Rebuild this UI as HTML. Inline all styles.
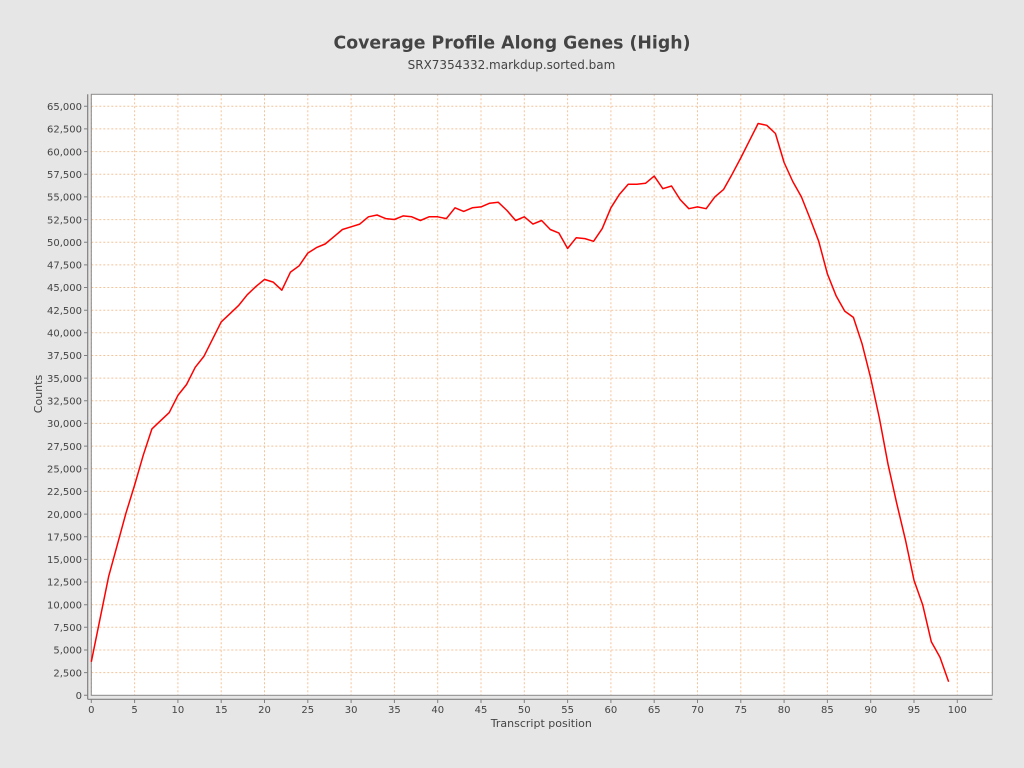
<!DOCTYPE html>
<html>
<head>
<meta charset="utf-8">
<style>
html,body{margin:0;padding:0;background:#e6e6e6;}
svg{display:block;}
text{font-family:"DejaVu Sans","Liberation Sans",sans-serif;fill:#444;}
</style>
</head>
<body>
<svg width="1024" height="768" viewBox="0 0 1024 768" xmlns="http://www.w3.org/2000/svg">
<rect x="0" y="0" width="1024" height="768" fill="#e6e6e6"/>
<text x="512" y="48.5" text-anchor="middle" font-size="18" font-weight="bold" style="fill:#444" textLength="357" lengthAdjust="spacingAndGlyphs">Coverage Profile Along Genes (High)</text>
<text x="511.5" y="69" text-anchor="middle" font-size="12" style="fill:#444">SRX7354332.markdup.sorted.bam</text>

<rect x="91.3" y="94.3" width="901" height="601" fill="#ffffff"/>

<g stroke="#f4c49c" stroke-width="1" stroke-dasharray="2,2" fill="none">
<path id="vg" d="M91.3 94.3V695.3M134.6 94.3V695.3M177.9 94.3V695.3M221.2 94.3V695.3M264.5 94.3V695.3M307.8 94.3V695.3M351.1 94.3V695.3M394.4 94.3V695.3M437.7 94.3V695.3M481.0 94.3V695.3M524.3 94.3V695.3M567.6 94.3V695.3M610.9 94.3V695.3M654.2 94.3V695.3M697.5 94.3V695.3M740.8 94.3V695.3M784.1 94.3V695.3M827.4 94.3V695.3M870.7 94.3V695.3M914.0 94.3V695.3M957.3 94.3V695.3"/>
<path d="M91.3 672.6H992.3M91.3 650.0H992.3M91.3 627.3H992.3M91.3 604.7H992.3M91.3 582.0H992.3M91.3 559.4H992.3M91.3 536.7H992.3M91.3 514.1H992.3M91.3 491.4H992.3M91.3 468.8H992.3M91.3 446.1H992.3M91.3 423.4H992.3M91.3 400.8H992.3M91.3 378.1H992.3M91.3 355.5H992.3M91.3 332.8H992.3M91.3 310.2H992.3M91.3 287.5H992.3M91.3 264.9H992.3M91.3 242.2H992.3M91.3 219.6H992.3M91.3 196.9H992.3M91.3 174.2H992.3M91.3 151.6H992.3M91.3 128.9H992.3M91.3 106.3H992.3"/>
</g>

<rect x="91.3" y="94.3" width="901" height="601" fill="none" stroke="#8a8a8a" stroke-width="1"/>

<!-- axes -->
<g stroke="#808080" stroke-width="1.2" fill="none">
<path d="M87.7 94.3V699.3"/>
<path d="M87.7 699.3H992.3"/>
</g>
<g stroke="#808080" stroke-width="1" fill="none">
<path d="M84 695.3H87.7M84 672.6H87.7M84 650.0H87.7M84 627.3H87.7M84 604.7H87.7M84 582.0H87.7M84 559.4H87.7M84 536.7H87.7M84 514.1H87.7M84 491.4H87.7M84 468.8H87.7M84 446.1H87.7M84 423.4H87.7M84 400.8H87.7M84 378.1H87.7M84 355.5H87.7M84 332.8H87.7M84 310.2H87.7M84 287.5H87.7M84 264.9H87.7M84 242.2H87.7M84 219.6H87.7M84 196.9H87.7M84 174.2H87.7M84 151.6H87.7M84 128.9H87.7M84 106.3H87.7"/>
<path d="M91.3 699.3V703M134.6 699.3V703M177.9 699.3V703M221.2 699.3V703M264.5 699.3V703M307.8 699.3V703M351.1 699.3V703M394.4 699.3V703M437.7 699.3V703M481.0 699.3V703M524.3 699.3V703M567.6 699.3V703M610.9 699.3V703M654.2 699.3V703M697.5 699.3V703M740.8 699.3V703M784.1 699.3V703M827.4 699.3V703M870.7 699.3V703M914.0 699.3V703M957.3 699.3V703"/>
</g>

<g font-size="10" text-anchor="end">
<text x="82" y="699">0</text>
<text x="82" y="676.3">2,500</text>
<text x="82" y="653.7">5,000</text>
<text x="82" y="631">7,500</text>
<text x="82" y="608.4">10,000</text>
<text x="82" y="585.7">12,500</text>
<text x="82" y="563.1">15,000</text>
<text x="82" y="540.4">17,500</text>
<text x="82" y="517.8">20,000</text>
<text x="82" y="495.1">22,500</text>
<text x="82" y="472.5">25,000</text>
<text x="82" y="449.8">27,500</text>
<text x="82" y="427.1">30,000</text>
<text x="82" y="404.5">32,500</text>
<text x="82" y="381.8">35,000</text>
<text x="82" y="359.2">37,500</text>
<text x="82" y="336.5">40,000</text>
<text x="82" y="313.9">42,500</text>
<text x="82" y="291.2">45,000</text>
<text x="82" y="268.6">47,500</text>
<text x="82" y="245.9">50,000</text>
<text x="82" y="223.3">52,500</text>
<text x="82" y="200.6">55,000</text>
<text x="82" y="177.9">57,500</text>
<text x="82" y="155.3">60,000</text>
<text x="82" y="132.6">62,500</text>
<text x="82" y="110">65,000</text>
</g>

<g font-size="10" text-anchor="middle">
<text x="91.3" y="713">0</text>
<text x="134.6" y="713">5</text>
<text x="177.9" y="713">10</text>
<text x="221.2" y="713">15</text>
<text x="264.5" y="713">20</text>
<text x="307.8" y="713">25</text>
<text x="351.1" y="713">30</text>
<text x="394.4" y="713">35</text>
<text x="437.7" y="713">40</text>
<text x="481.0" y="713">45</text>
<text x="524.3" y="713">50</text>
<text x="567.6" y="713">55</text>
<text x="610.9" y="713">60</text>
<text x="654.2" y="713">65</text>
<text x="697.5" y="713">70</text>
<text x="740.8" y="713">75</text>
<text x="784.1" y="713">80</text>
<text x="827.4" y="713">85</text>
<text x="870.7" y="713">90</text>
<text x="914.0" y="713">95</text>
<text x="957.3" y="713">100</text>
</g>

<text x="541.3" y="727" text-anchor="middle" font-size="11">Transcript position</text>
<text transform="translate(42,394) rotate(-90)" x="0" y="0" text-anchor="middle" font-size="11">Counts</text>

<polyline fill="none" stroke="#ff0000" stroke-width="1.5" stroke-linejoin="round" points="
91.3,661.8 99.96,619.2 108.62,576.6 117.28,544.9 125.94,513.2 134.6,485.1 143.26,455.2 151.92,428.9 160.58,420.7 169.24,412.6
177.9,395.4 186.56,384.5 195.22,367.3 203.88,356.4 212.54,339.2 221.2,321.9 229.86,313.8 238.52,305.6 247.18,294.8 255.84,286.6
264.5,279.4 273.16,282.1 281.82,290.2 290.48,272.1 299.14,265.8 307.8,253.1 316.46,247.6 325.12,244.0 333.78,236.8 342.44,229.5
351.1,226.8 359.76,224.1 368.42,216.8 377.08,215.0 385.74,218.6 394.4,219.5 403.06,215.9 411.72,216.8 420.38,220.5 429.04,216.8
437.7,216.8 446.36,218.6 455.02,207.8 463.68,211.4 472.34,207.8 481.0,206.9 489.66,203.2 498.32,202.3 506.98,210.5 515.64,220.5
524.3,216.8 532.96,224.1 541.62,220.5 550.28,229.5 558.94,233.1 567.6,248.5 576.26,237.7 584.92,238.6 593.58,241.3 602.24,228.6
610.9,207.8 619.56,194.2 628.22,184.2 636.88,184.2 645.54,183.3 654.2,176.1 662.86,188.7 671.52,186.0 680.18,199.6 688.84,208.7
697.5,206.9 706.16,208.7 714.82,196.9 723.48,189.6 732.14,174.2 740.8,157.9 749.46,140.7 758.12,123.5 766.78,125.3 775.44,133.5
784.1,162.5 792.76,181.5 801.42,196.9 810.08,218.6 818.74,241.3 827.4,273.9 836.06,295.7 844.72,311.1 853.38,317.4 862.04,343.7
870.7,378.1 879.36,418.0 888.02,464.2 896.68,503.2 905.34,539.4 914.0,580.2 922.66,604.7 931.32,641.8 939.98,657.2 948.64,681.7"/>
</svg>
</body>
</html>
